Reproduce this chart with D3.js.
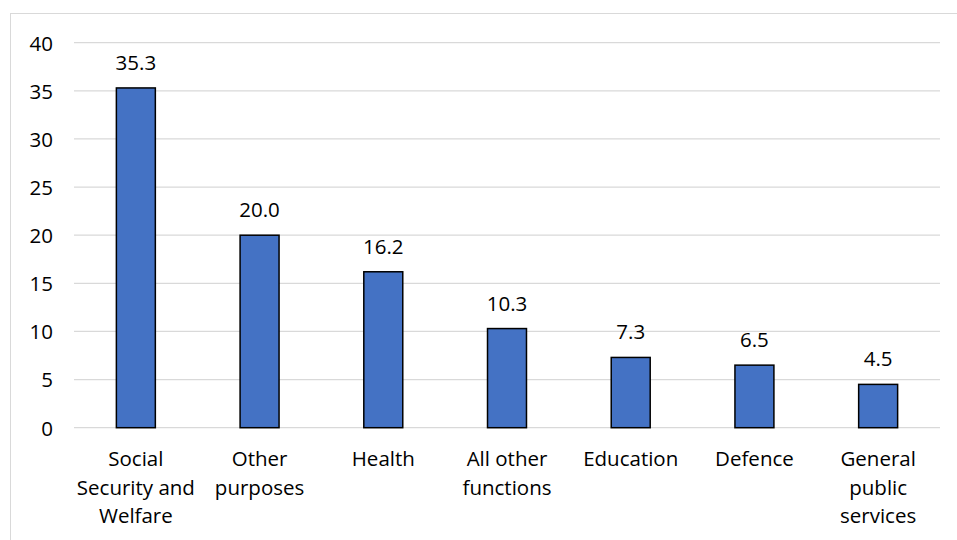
<!DOCTYPE html>
<html>
<head>
<meta charset="utf-8">
<script src="https://cdn.jsdelivr.net/npm/d3@7"></script>
<style>
  html, body { margin: 0; padding: 0; background: #fff; }
  svg { display: block; }
  text { font-family: "Open Sans", sans-serif; fill: #000; }
</style>
</head>
<body>
<script>
// Spending by function, per cent of total
const categories = [
  ["Social", "Security and", "Welfare"],
  ["Other", "purposes"],
  ["Health"],
  ["All other", "functions"],
  ["Education"],
  ["Defence"],
  ["General", "public", "services"]
];
const values = [35.3, 20.0, 16.2, 10.3, 7.3, 6.5, 4.5];
const yTicks = [0, 5, 10, 15, 20, 25, 30, 35, 40];

const W = 957, H = 540;
const FONT = 20.5;
const plot = { left: 74, right: 940, top: 42.7, bottom: 427.7 };

const svg = d3.select("body").append("svg")
  .attr("width", W).attr("height", H);

// outer chart frame
svg.append("rect")
  .attr("x", 10.5).attr("y", 13.5)
  .attr("width", 1000).attr("height", 600)
  .attr("fill", "none").attr("stroke", "#d9d9d9").attr("stroke-width", 1);

const x = d3.scaleBand()
  .domain(d3.range(categories.length))
  .range([plot.left, plot.right])
  .paddingInner(0.685).paddingOuter(0.3425);

const y = d3.scaleLinear().domain([0, 40]).range([plot.bottom, plot.top]);

// gridlines
svg.append("g").selectAll("line").data(yTicks).join("line")
  .attr("x1", plot.left).attr("x2", plot.right)
  .attr("y1", d => y(d)).attr("y2", d => y(d))
  .attr("stroke", "#d9d9d9").attr("stroke-width", 1.3);

// y axis labels
const yAxis = d3.axisLeft(y).tickValues(yTicks).tickSize(0).tickPadding(0);
const gy = svg.append("g").attr("transform", `translate(${plot.left - 21},0)`).call(yAxis);
gy.select(".domain").remove();
gy.selectAll("text")
  .attr("font-size", FONT)
  .attr("font-family", "'Open Sans', sans-serif")
  .attr("fill", "#000")
  .attr("dy", "0.36em");

// bars
svg.append("g").selectAll("rect").data(values).join("rect")
  .attr("x", (d, i) => x(i))
  .attr("y", d => y(d))
  .attr("width", x.bandwidth())
  .attr("height", d => y(0) - y(d))
  .attr("fill", "#4472C4")
  .attr("stroke", "#000").attr("stroke-width", 1.5);

// value labels
svg.append("g").selectAll("text").data(values).join("text")
  .attr("x", (d, i) => x(i) + x.bandwidth() / 2)
  .attr("y", d => y(d) - 18)
  .attr("text-anchor", "middle")
  .attr("font-size", FONT)
  .text(d => d.toFixed(1));

// category labels
const cat = svg.append("g").selectAll("text").data(categories).join("text")
  .attr("text-anchor", "middle")
  .attr("font-size", FONT)
  .attr("transform", (d, i) => `translate(${x(i) + x.bandwidth() / 2},0)`);
cat.selectAll("tspan").data(d => d).join("tspan")
  .attr("x", 0)
  .attr("y", (d, j) => 466 + j * 28.5)
  .text(d => d);
</script>
</body>
</html>
